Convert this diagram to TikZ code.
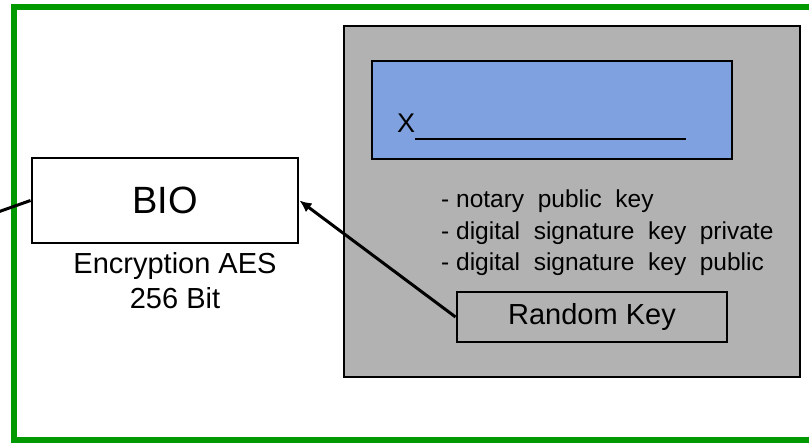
\documentclass[tikz,border=0pt]{standalone}
\usepackage{fontspec}
\setmainfont{Liberation Sans}
\usetikzlibrary{positioning,arrows.meta}
\definecolor{frame}{HTML}{009A00}
\definecolor{panel}{HTML}{B2B2B2}
\definecolor{field}{HTML}{7FA1DF}
\tikzset{box/.style={draw, line width=2.9pt, inner sep=0pt}}
\begin{document}
\begin{tikzpicture}[>={Latex[length=12pt,width=11pt]}, x=1pt, y=-1pt]
  \clip (0,0) rectangle (809,443);
  \draw[frame, line width=6pt](13.5,7)rectangle(830,440);

  \draw[box, fill=panel](344,26)rectangle(800,377);
  \draw[box, fill=field](372,61)rectangle(732,159);
  \node[inner sep=0pt, anchor=base west, font=\fontsize{27}{27}\selectfont] (xmark) at (397,133) {X};
  \draw[line width=2.6pt]([yshift=-6pt]xmark.base east)--(686,139);

  \node[inner sep=0pt, anchor=west, align=left, font=\fontsize{24.5}{31.5}\selectfont] (keylist) at (441,233)
    {- notary\ \ public\ \ key\\- digital\ \ signature\ \ key\ \ private\\- digital\ \ signature\ \ key\ \ public};
  \node[box, fill=panel, minimum width=270pt, minimum height=50pt, font=\fontsize{29}{29}\selectfont] (rkey) at (592,317) {Random Key};

  \node[box, fill=white, minimum width=266pt, minimum height=85pt, font=\fontsize{38}{38}\selectfont] (bio) at (165,200.5) {BIO};
  \node[align=center, font=\fontsize{29}{35}\selectfont] (aes) at (175,281) {Encryption AES\\256 Bit};

  \coordinate (outside) at (-2,212);
  \draw[line width=3pt](outside)--(bio.west);
  \draw[->, line width=3pt](rkey.west)--(bio.east);
\end{tikzpicture}
\end{document}
